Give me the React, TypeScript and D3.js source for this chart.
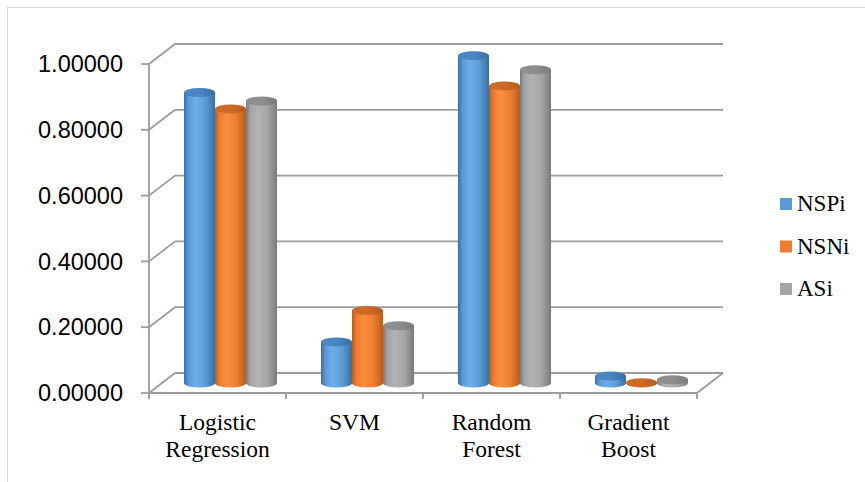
import React from "react";
import * as d3 from "d3";

const categories = [["Logistic", "Regression"], ["SVM"], ["Random", "Forest"], ["Gradient", "Boost"]];
const seriesNames = ["NSPi", "NSNi", "ASi"];
const nspi = [0.883, 0.125, 0.995, 0.021];
const nsni = [0.833, 0.22, 0.903, 0.001];
const asi = [0.857, 0.174, 0.952, 0.01];
const yTicks = [0, 0.2, 0.4, 0.6, 0.8, 1.0];

const seriesValues = [nspi, nsni, asi];
const colors = [
  { base: "#5b9bd5", light: "#6eaee9", dark: "#3a6ea3", top: "#4a86c2" },
  { base: "#ed7d31", light: "#fb8e3e", dark: "#b85c1c", top: "#cf6a26" },
  { base: "#a5a5a5", light: "#b3b3b3", dark: "#7a7a7a", top: "#8e8e8e" },
];

const W = 865, H = 482;
const X0 = 149, X1 = 697;
const DX = 26, DY = -20;
const yFront = d3.scaleLinear().domain([0, 1]).range([393, 64]);
const xCat = d3.scaleBand<number>().domain(d3.range(categories.length)).range([X0, X1]);
const GRID = "#9c9c9c";
const SERIF = "'Liberation Serif', 'Times New Roman', serif";

export default function App() {
  const depth = 0.5;
  const bw = 31;
  const xSer = d3.scaleBand<number>().domain(d3.range(3)).range([0, bw * 3]);
  const rx = bw / 2, ry = 4.5;
  return (
    <svg width={W} height={H} style={{ position: "absolute", left: 0, top: 0 }}>
      <defs>
        {colors.map((c, i) => (
          <linearGradient key={i} id={`g${i}`} x1="0" x2="1" y1="0" y2="0">
            <stop offset="0" stopColor={c.dark} />
            <stop offset="0.15" stopColor={c.base} />
            <stop offset="0.38" stopColor={c.light} />
            <stop offset="0.7" stopColor={c.base} />
            <stop offset="1" stopColor={c.dark} />
          </linearGradient>
        ))}
        {colors.map((c, i) => (
          <linearGradient key={"t" + i} id={`t${i}`} x1="0" x2="1" y1="0" y2="0">
            <stop offset="0" stopColor={c.top} />
            <stop offset="0.5" stopColor={c.top} />
            <stop offset="1" stopColor={c.dark} />
          </linearGradient>
        ))}
      </defs>
      <rect x={7.5} y={7.5} width={W} height={H} fill="none" stroke="#d9d9d9" strokeWidth={1} />
      {yTicks.map((t) => (
        <g key={t}>
          <line x1={X0 + DX} x2={X1 + DX} y1={yFront(t) + DY} y2={yFront(t) + DY} stroke={GRID} strokeWidth={1.8} />
          <line x1={X0} x2={X0 + DX} y1={yFront(t)} y2={yFront(t) + DY} stroke={GRID} strokeWidth={1.8} />
          <line x1={X0 - 8} x2={X0} y1={yFront(t)} y2={yFront(t)} stroke={GRID} strokeWidth={1.8} />
          <text x={123} y={yFront(t)} dy="0.35em" textAnchor="end" fontFamily="'Liberation Sans', Arial, sans-serif" fontSize={23.5} fill="#000">
            {d3.format(".5f")(t)}
          </text>
        </g>
      ))}
      <line x1={X0} x2={X0} y1={yFront(1)} y2={yFront(0) + 6} stroke={GRID} strokeWidth={1.8} />
      <line x1={X0} x2={X1} y1={yFront(0)} y2={yFront(0)} stroke={GRID} strokeWidth={1.8} />
      <line x1={X1} x2={X1 + DX} y1={yFront(0)} y2={yFront(0) + DY} stroke={GRID} strokeWidth={1.8} />
      {d3.range(categories.length + 1).map((i) => {
        const x = X0 + i * xCat.bandwidth();
        return <line key={i} x1={x} x2={x} y1={yFront(0)} y2={yFront(0) + 6} stroke={GRID} strokeWidth={1.8} />;
      })}
      {categories.map((_, ci) => {
        const gx = xCat(ci)! + (xCat.bandwidth() - bw * 3) / 2 + DX * depth;
        return (
          <g key={ci}>
            {seriesValues.map((vals, si) => {
              const l = gx + xSer(si)!;
              const r = l + bw;
              const by = yFront(0) + DY * depth;
              const ty = yFront(vals[ci]) + DY * depth;
              const body = `M${l},${ty} L${l},${by} A${rx},${ry} 0 0 0 ${r},${by} L${r},${ty} Z`;
              return (
                <g key={si}>
                  <path d={body} fill={`url(#g${si})`} />
                  <ellipse cx={l + rx} cy={ty} rx={rx} ry={ry} fill={`url(#t${si})`} />
                </g>
              );
            })}
          </g>
        );
      })}
      {categories.map((lines, ci) => (
        <text key={ci} x={xCat(ci)! + xCat.bandwidth() / 2} y={430} textAnchor="middle" fontFamily={SERIF} fontSize={23.5} fill="#000">
          {lines.map((ln, k) => (
            <tspan key={k} x={xCat(ci)! + xCat.bandwidth() / 2} y={430 + k * 27}>{ln}</tspan>
          ))}
        </text>
      ))}
      {seriesNames.map((n, i) => (
        <g key={n} transform={`translate(780, ${198 + i * 42.5})`}>
          <rect x={0} y={0} width={12} height={12} fill={colors[i].base} />
          <text x={17} y={13} fontFamily={SERIF} fontSize={23} fill="#000">{n}</text>
        </g>
      ))}
    </svg>
  );
}
